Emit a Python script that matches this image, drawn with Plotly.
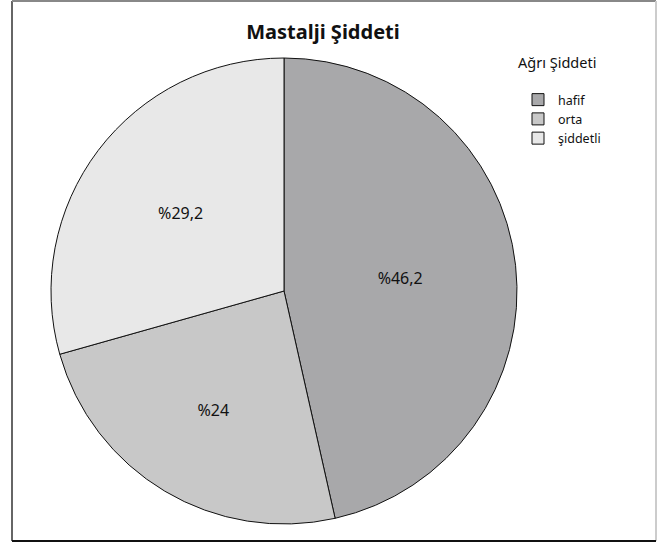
import plotly.graph_objects as go

categories = ["hafif", "orta", "şiddetli"]
values = [46.2, 24, 29.2]
label_texts = ["%46,2", "%24", "%29,2"]
colors = ["#a8a8aa", "#c8c8c8", "#e8e8e8"]

W, H = 657, 543
cx, cy, r = 284, 291, 233

fig = go.Figure(go.Pie(
    labels=categories,
    values=values,
    text=label_texts,
    textinfo="text",
    textposition="inside",
    insidetextorientation="horizontal",
    textfont=dict(family="Noto Sans", size=16, color="#111111"),
    marker=dict(colors=colors, line=dict(color="#111111", width=1)),
    sort=False,
    direction="clockwise",
    rotation=0,
    hoverinfo="label+percent",
    domain=dict(x=[(cx - r) / W, (cx + r) / W], y=[1 - (cy + r) / H, 1 - (cy - r) / H]),
))

shapes = [
    dict(type="line", xref="paper", yref="paper", x0=12 / W, x1=12 / W, y0=1 - 541 / H, y1=1 - 1 / H,
         line=dict(color="#666666", width=2)),
    dict(type="line", xref="paper", yref="paper", x0=12 / W, x1=656 / W, y0=1 - 1 / H, y1=1 - 1 / H,
         line=dict(color="#888888", width=2)),
    dict(type="line", xref="paper", yref="paper", x0=656 / W, x1=656 / W, y0=1 - 541 / H, y1=1 - 1 / H,
         line=dict(color="#cccccc", width=2)),
    dict(type="line", xref="paper", yref="paper", x0=12 / W, x1=656 / W, y0=1 - 541 / H, y1=1 - 541 / H,
         line=dict(color="#111111", width=2)),
]

fig.update_layout(
    width=W, height=H,
    margin=dict(l=0, r=0, t=0, b=0),
    paper_bgcolor="white",
    plot_bgcolor="white",
    title=dict(text="<b>Mastalji Şiddeti</b>", x=323 / W, xanchor="center", y=1 - 32 / H, yanchor="middle",
               font=dict(family="Noto Sans", size=20, color="#111111")),
    showlegend=True,
    legend=dict(x=518 / W, xanchor="left", y=1 - 85 / H, yanchor="top",
                font=dict(family="Noto Sans", size=12.5, color="#111111"),
                bgcolor="rgba(0,0,0,0)", traceorder="normal"),
    annotations=[dict(text="Ağrı Şiddeti", xref="paper", yref="paper", x=516 / W, xanchor="left",
                      y=1 - 62 / H, yanchor="middle", showarrow=False,
                      font=dict(family="Noto Sans", size=14.5, color="#111111"))],
    shapes=shapes,
)

fig.write_html("out.html")
